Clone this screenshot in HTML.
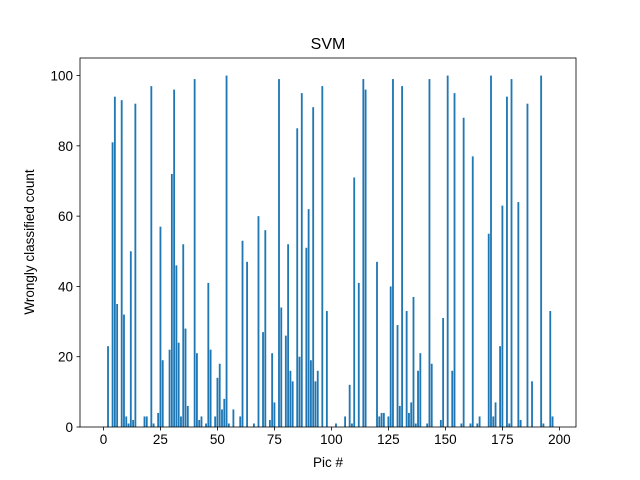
<!DOCTYPE html>
<html><head><meta charset="utf-8"><style>
body{margin:0;background:#fff}
svg{display:block;font-family:"Liberation Sans","DejaVu Sans",sans-serif}
</style></head><body>
<svg id="chart" width="640" height="480" viewBox="0 0 640 480" xmlns="http://www.w3.org/2000/svg">
<rect width="640" height="480" fill="#fff"/>
<text x="328" y="49" font-size="16" text-anchor="middle">SVM</text>
<g id="bars"></g>
<g id="axes"></g>
<text x="328" y="467" font-size="13.5" text-anchor="middle">Pic #</text>
<text x="34" y="242" font-size="13.5" text-anchor="middle" transform="rotate(-90 34 242)">Wrongly classified count</text>
</svg>
<script>
const counts = [0,0,23,0,81,94,35,0,93,32,3,1,50,2,92,0,0,0,3,3,
0,97,1,0,4,57,19,0,0,22,72,96,46,24,3,52,28,6,0,0,
99,21,2,3,0,1,41,22,0,3,14,18,5,8,100,1,0,5,0,0,
3,53,0,47,0,0,1,0,60,0,27,56,0,2,21,7,0,99,34,0,
26,52,16,13,0,85,20,95,0,51,62,19,91,13,16,0,97,0,33,0,
0,0,1,0,0,0,3,0,12,1,71,0,41,0,99,96,0,0,0,0,
47,3,4,4,0,3,40,99,0,29,6,97,0,33,4,7,37,1,16,21,
0,0,1,99,18,0,0,0,2,31,0,100,0,16,95,0,0,1,88,0,
0,1,77,0,1,3,0,0,0,55,100,3,7,0,23,63,0,94,1,99,
0,0,64,2,0,0,92,0,13,0,0,0,100,1,0,0,33,3];
const xTicks = [0,25,50,75,100,125,150,175,200];
const yTicks = [0,20,40,60,80,100];

const L=80,R=576,T=58,B=427;
const xMin=-10.29,xMax=207.29,yMax=105;
const sx=v=>L+(v-xMin)*(R-L)/(xMax-xMin);
const sy=v=>B-v*(B-T)/yMax;
const NS="http://www.w3.org/2000/svg";
const bars=document.getElementById('bars');
counts.forEach((v,i)=>{
  if(v<=0)return;
  const r=document.createElementNS(NS,'rect');
  
  
  const x0=sx(i-0.4),x1=sx(i+0.4);
  r.setAttribute('x',x0);r.setAttribute('width',x1-x0);
  r.setAttribute('y',sy(v));r.setAttribute('height',sy(0)-sy(v));
  r.setAttribute('fill','#1f77b4');
  bars.appendChild(r);
});
const ax=document.getElementById('axes');
function add(tag,attrs,txt){const e=document.createElementNS(NS,tag);for(const k in attrs)e.setAttribute(k,attrs[k]);if(txt!==undefined)e.textContent=txt;ax.appendChild(e);return e;}
const frame=add('rect',{x:L,y:T,width:R-L,height:B-T,fill:'none',stroke:'#000','stroke-width':0.8});


xTicks.forEach(t=>{
  const x=sx(t);
  const tk=add('line',{x1:x,x2:x,y1:B,y2:B+3.5,stroke:'#000','stroke-width':0.8});
  
  
  const lb=add('text',{x:x,y:B+17,'font-size':13.5,'text-anchor':'middle'},String(t));
  
  
});
yTicks.forEach(t=>{
  const y=sy(t);
  const tk=add('line',{x1:L-3.5,x2:L,y1:y,y2:y,stroke:'#000','stroke-width':0.8});
  
  
  const lb=add('text',{x:L-7,y:y+5,'font-size':13.5,'text-anchor':'end'},String(t));
  
  
});
</script>
</body></html>
